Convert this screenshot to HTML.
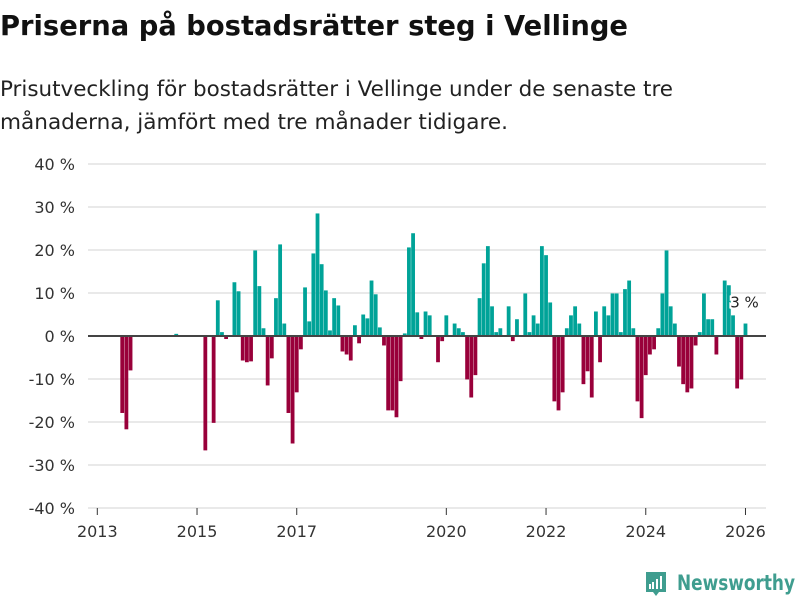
<!DOCTYPE html>
<html><head><meta charset="utf-8">
<style>
body{margin:0;width:800px;height:600px;background:#fff;font-family:"Liberation Sans","DejaVu Sans",sans-serif;overflow:hidden}
svg text{font-family:"DejaVu Sans","Liberation Sans",sans-serif}
</style></head><body>
<svg id="chart" width="800" height="600">
<text x="0" y="35" font-size="28" font-weight="bold" fill="#111" textLength="628" lengthAdjust="spacingAndGlyphs">Priserna på bostadsrätter steg i Vellinge</text>
<text x="0" y="96" font-size="21" fill="#222" textLength="673" lengthAdjust="spacingAndGlyphs">Prisutveckling för bostadsrätter i Vellinge under de senaste tre</text>
<text x="0" y="129" font-size="21" fill="#222" textLength="508" lengthAdjust="spacingAndGlyphs">månaderna, jämfört med tre månader tidigare.</text>
<g id="grid"></g><g id="bars"></g><g id="axes"></g>
<g>
<path d="M646 572 h20 v20 h-7 l-3 4 l-3 -4 h-7 z" fill="#3f9d8f"/>
<rect x="649" y="584" width="2" height="5" fill="#fff"/><rect x="652" y="582" width="2" height="7" fill="#fff"/><rect x="656" y="579" width="2" height="10" fill="#fff"/><rect x="660" y="576" width="2" height="13" fill="#fff"/>
<text x="677" y="590" font-size="21" font-weight="bold" fill="#3f9d8f" textLength="118" lengthAdjust="spacingAndGlyphs">Newsworthy</text>
</g>
</svg>
<script>
const startYear = 2013;
const yTicks = [40,30,20,10,0,-10,-20,-30,-40];
const xTickYears = [2013,2015,2017,2020,2022,2024,2026];
const months = [6,7,8,19,26,28,29,30,31,33,34,35,36,37,38,39,40,41,42,43,44,45,46,47,48,49,50,51,52,53,54,55,56,57,58,59,60,61,62,63,64,65,66,67,68,69,70,71,72,73,74,75,76,77,78,79,80,82,83,84,86,87,88,89,90,91,92,93,94,95,96,97,99,100,101,103,104,105,106,107,108,109,110,111,112,113,114,115,116,117,118,119,120,121,122,123,124,125,126,127,128,129,130,131,132,133,134,135,136,137,138,139,140,141,142,143,144,145,146,147,148,149,151,152,153,154,155,156];
const values = [-17.9,-21.7,-8.0,0.5,-26.6,-20.2,8.3,0.9,-0.7,12.5,10.4,-5.7,-6.1,-5.9,19.9,11.6,1.8,-11.5,-5.2,8.8,21.3,2.9,-17.9,-25.0,-13.1,-3.1,11.3,3.4,19.2,28.5,16.7,10.6,1.3,8.8,7.1,-3.6,-4.3,-5.7,2.5,-1.7,5.0,4.1,12.9,9.7,2.0,-2.2,-17.3,-17.3,-18.9,-10.5,0.6,20.6,23.9,5.5,-0.7,5.7,4.8,-6.1,-1.2,4.8,2.9,1.8,0.9,-10.1,-14.3,-9.1,8.8,16.9,20.9,6.9,0.9,1.8,6.9,-1.2,3.9,9.9,0.9,4.8,2.9,20.9,18.8,7.8,-15.2,-17.3,-13.1,1.8,4.8,6.9,2.9,-11.2,-8.2,-14.3,5.7,-6.1,6.9,4.8,9.9,9.9,0.9,10.9,12.9,1.8,-15.2,-19.1,-9.1,-4.3,-3.1,1.8,9.9,19.9,6.9,2.9,-7.1,-11.2,-13.1,-12.2,-2.2,0.9,9.9,3.9,3.9,-4.3,12.9,11.8,4.8,-12.2,-10.1,2.9];
const NS='http://www.w3.org/2000/svg';
const y = v => 336 - v*4.3;
const x = m => 97.3 + m*4.155;
function mk(tag, attrs, parent){const e=document.createElementNS(NS,tag);for(const k in attrs)e.setAttribute(k,attrs[k]);document.getElementById(parent).appendChild(e);return e;}
yTicks.forEach(t=>{
  if(t!==0){const g=mk('line',{x1:88,x2:766,y1:y(t),y2:y(t),stroke:'#e2e2e2','stroke-width':1.5},'grid');
  
  }
  const l=mk('text',{x:75,y:y(t)+6,'font-size':16,fill:'#333','text-anchor':'end'},'axes');
  l.textContent=t+' %';
  
  
});
months.forEach((m,i)=>{
  const v=values[i];
  const r=mk('rect',{x:x(m)-1.9,width:3.8,y:Math.min(y(v),y(0)),height:Math.abs(y(v)-y(0)),fill:v>=0?'#00a398':'#99003a'},'bars');
  
  
});
const z=mk('line',{x1:88,x2:766,y1:y(0),y2:y(0),stroke:'#444','stroke-width':2},'axes');


xTickYears.forEach(yr=>{
  const m=(yr-startYear)*12;
  const t=mk('line',{x1:x(m),x2:x(m),y1:508,y2:515,stroke:'#333','stroke-width':1},'axes');
  
  
  const l=mk('text',{x:x(m),y:537,'font-size':16,fill:'#333','text-anchor':'middle'},'axes');
  l.textContent=yr;
  
  
});
const lm=months[months.length-1], lv=values[values.length-1];
const a=mk('text',{x:x(lm)-1,y:y(lv)-16,'font-size':15,fill:'#222','text-anchor':'middle',stroke:'#fff','stroke-width':4,'paint-order':'stroke'},'axes');
a.textContent=Math.round(lv)+' %';


</script>
</body></html>
